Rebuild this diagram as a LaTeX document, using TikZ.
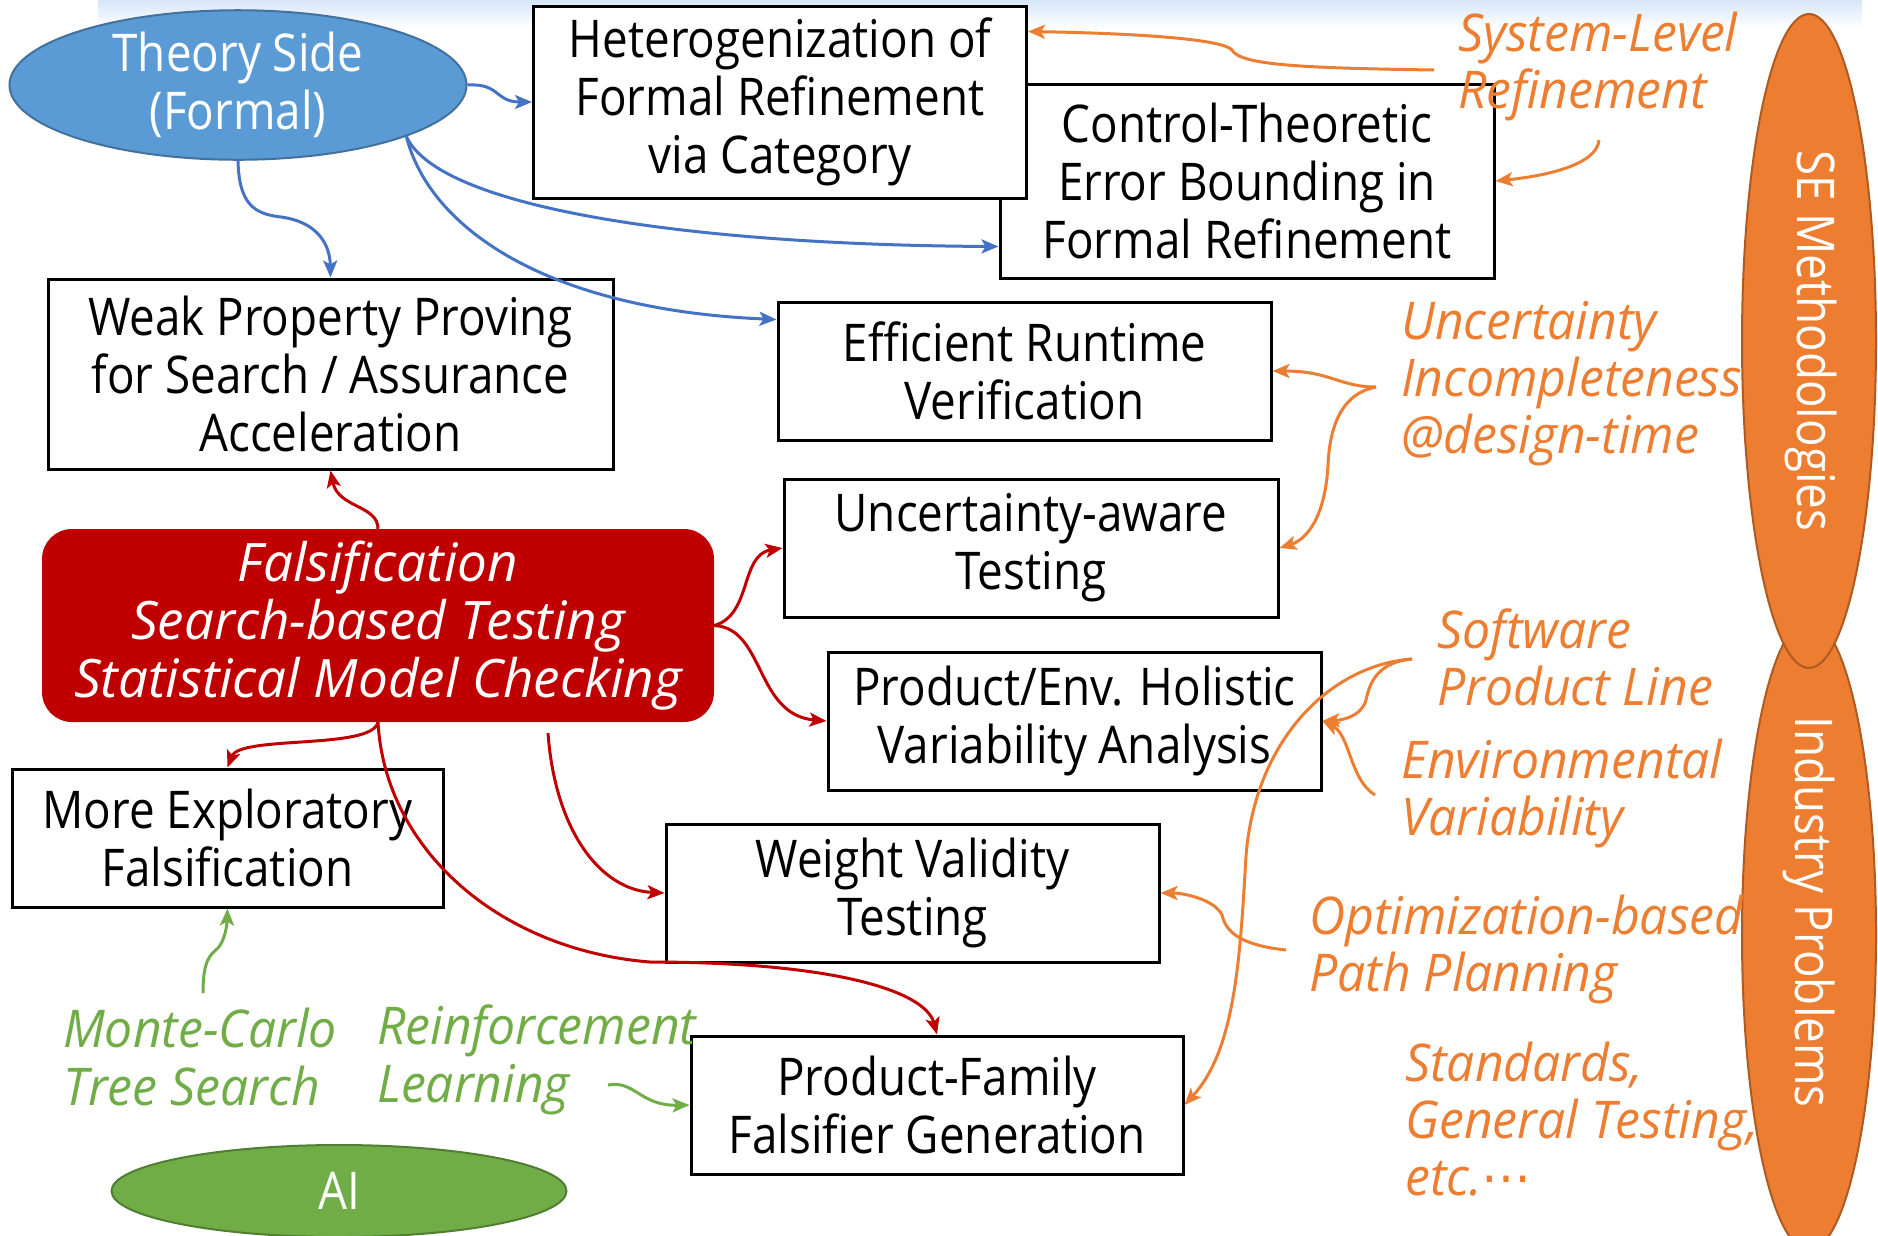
\documentclass[tikz,border=0pt]{standalone}
\usepackage{fontspec}
\setmainfont{Open Sans}[FakeStretch=0.88]
\newfontfamily\oit{Open Sans}[FakeStretch=0.96]
\newfontfamily\rit{Open Sans}[FakeStretch=1.0]
\newfontfamily\dejavu{DejaVu Sans}[FakeStretch=0.96]
\usetikzlibrary{shapes.geometric,arrows.meta,calc}
\definecolor{tblue}{HTML}{5B9BD5}
\definecolor{tblueb}{HTML}{41719C}
\definecolor{lblue}{HTML}{4472C4}
\definecolor{dred}{HTML}{C00000}
\definecolor{orng}{HTML}{ED7D31}
\definecolor{orngb}{HTML}{AE5A21}
\definecolor{grn}{HTML}{70AD47}
\definecolor{grnb}{HTML}{507E32}
\definecolor{band}{HTML}{D6E6F8}
\begin{document}
\begin{tikzpicture}[x=1pt,y=-1pt,
  bigfont/.style={font=\fontsize{52}{58}\selectfont},
  box/.style={draw=black,line width=3pt,fill=white,rectangle,inner sep=0pt,align=center,bigfont},
  otext/.style={text=orng,inner sep=0pt,align=left,anchor=west,font=\fontsize{52}{57}\selectfont\oit\itshape},
  gtext/.style={text=grn,inner sep=0pt,align=left,anchor=west,font=\fontsize{52}{58}\selectfont\oit\itshape},
  conn/.style={line width=3pt,-{Stealth[length=17pt,width=14pt,inset=4pt]}},
  bconn/.style={conn,draw=lblue},
  rconn/.style={conn,draw=dred},
  oconn/.style={conn,draw=orng},
  gconn/.style={conn,draw=grn}]
\useasboundingbox (0,0) rectangle (1878,1235);
\fill[white] (0,0) rectangle (1878,1235);
\shade[top color=band,bottom color=white] (98,0) rectangle (1862,28);

% right ellipses
\node[ellipse,fill=orng,draw=orngb,line width=2pt,minimum width=134pt,minimum height=630pt,inner sep=0pt] (ind) at (1809,935) {};
\node[ellipse,fill=orng,draw=orngb,line width=2pt,minimum width=134pt,minimum height=654pt,inner sep=0pt] (se) at (1809,341) {};
\node[text=white,rotate=-90,font=\fontsize{52}{58}\selectfont] (indt) at (1809,912) {Industry Problems};
\node[text=white,rotate=-90,font=\fontsize{52}{58}\selectfont] (set) at (1811,341) {SE Methodologies};

% theory and AI ellipses
\node[ellipse,fill=tblue,draw=tblueb,line width=2pt,minimum width=457pt,minimum height=137pt,inner sep=0pt,text=white,align=center,bigfont] (theory) at (238,85) {Theory Side\\(Formal)};
\node[ellipse,fill=grn,draw=grnb,line width=2pt,minimum width=455pt,minimum height=92pt,inner sep=0pt,text=white,bigfont] (ai) at (339,1191) {AI};

% boxes
\node[box,minimum width=494pt,minimum height=194pt] (control) at (1247,181) {Control-Theoretic\\Error Bounding in\\Formal Refinement};
\node[box,minimum width=493pt,minimum height=192pt] (hetero) at (780,102) {Heterogenization of\\Formal Refinement\\via Category};
\node[box,minimum width=565pt,minimum height=190pt] (weak) at (330.5,374) {Weak Property Proving\\for Search / Assurance\\Acceleration};
\node[box,minimum width=493pt,minimum height=138pt] (eff) at (1024.5,371) {Efficient Runtime\\Verification};
\node[box,minimum width=494pt,minimum height=138pt] (uaw) at (1031,548) {Uncertainty-aware\\Testing};
\node[box,minimum width=493pt,minimum height=138pt] (prod) at (1074.5,721) {Product/Env. Holistic\\Variability Analysis};
\node[box,minimum width=493pt,minimum height=138pt] (weight) at (912.5,893) {Weight Validity\\Testing};
\node[box,minimum width=492pt,minimum height=138pt] (pff) at (937,1105) {Product-Family\\Falsifier Generation};
\node[box,minimum width=431pt,minimum height=138pt] (more) at (227.5,838) {More Exploratory\\Falsification};
\node[rectangle,rounded corners=30pt,fill=dred,minimum width=672pt,minimum height=193pt,inner sep=0pt,text=white,align=center,font=\fontsize{53}{58}\selectfont\rit\itshape] (fals) at (378,625.5) {Falsification\\Search-based Testing\\Statistical Model Checking};

% annotation texts
\node[otext] (sys) at (1458,66) {System-Level\\Refinement};
\node[otext] (unc) at (1401,384) {Uncertainty\\Incompleteness\\@design-time};
\node[otext] (spl) at (1437,657) {Software\\Product Line};
\node[otext] (env) at (1401,793) {Environmental\\Variability};
\node[otext] (opt) at (1309,949) {Optimization-based\\Path Planning};
\node[otext] (std) at (1405,1119) {Standards,\\General Testing,\\etc.{\dejavu\itshape ⋯}};
\node[gtext] (mcts) at (63,1057) {Monte-Carlo\\Tree Search};
\node[gtext] (rl) at (377,1060) {Reinforcement\\Learning};

% free ends
\coordinate (csys) at (1434,70);
\coordinate (cref) at (1599,140);
\coordinate (cunc) at (1376,387);
\coordinate (cspl) at (1412,659);
\coordinate (cenv) at (1375,795);
\coordinate (copt) at (1286,950);
\coordinate (cmcts) at (203,993);
\coordinate (crl) at (608,1085);
\coordinate (cfj) at (548,733);

% blue connectors
\draw[bconn] (theory.east) .. controls (500,83) and (495,102) .. (hetero.west);
\draw[bconn] (theory.south) .. controls (239,205) and (255,214) .. (281,217) .. controls (318,222) and (330,245) .. (weak.north);
\draw[bconn] (theory.-17) .. controls (440,210) and (700,245) .. ($(control.south west)+(0,-33)$);
\draw[bconn] (theory.-17) .. controls (430,230) and (550,310) .. ($(eff.north west)+(0,19)$);

% red connectors
\draw[rconn] (fals.north) .. controls (378,505) and (338,508) .. (weak.south);
\draw[rconn] (fals.east) .. controls (752,615) and (740,555) .. (uaw.west);
\draw[rconn] (fals.east) .. controls (765,628) and (755,715) .. (prod.west);
\draw[rconn] (fals.south) .. controls (372,750) and (240,735) .. (more.north);
\draw[rconn] (fals.south) .. controls (385,850) and (500,950) .. (650,962) .. controls (830,962) and (925,990) .. (pff.north);
\draw[rconn] (cfj) .. controls (555,830) and (600,890) .. (weight.west);

% orange connectors
\draw[oconn] (csys) .. controls (1300,68) and (1240,65) .. (1232,50) .. controls (1222,38) and (1120,33) .. ($(hetero.north east)+(0,27)$);
\draw[oconn] (cref) .. controls (1597,165) and (1545,176) .. (control.east);
\draw[oconn] (cunc) .. controls (1340,387) and (1330,371) .. (eff.east);
\draw[oconn] (cunc) .. controls (1345,393) and (1330,420) .. (1328,465) .. controls (1325,520) and (1305,540) .. (uaw.east);
\draw[oconn] (cspl) .. controls (1380,662) and (1370,680) .. (1366,700) .. controls (1362,715) and (1345,720) .. (prod.east);
\draw[oconn] (cspl) .. controls (1330,665) and (1255,740) .. (1246,856) .. controls (1240,960) and (1235,1050) .. (pff.east);
\draw[oconn] (cenv) .. controls (1350,780) and (1350,735) .. (prod.east);
\draw[oconn] (copt) .. controls (1240,945) and (1226,932) .. (1222,915) .. controls (1215,900) and (1185,893) .. (weight.east);

% green connectors
\draw[gconn] (cmcts) .. controls (203,960) and (210,955) .. (218,948) .. controls (225,940) and (227,925) .. (more.south);
\draw[gconn] (crl) .. controls (635,1080) and (640,1106) .. (pff.west);
\end{tikzpicture}
\end{document}
